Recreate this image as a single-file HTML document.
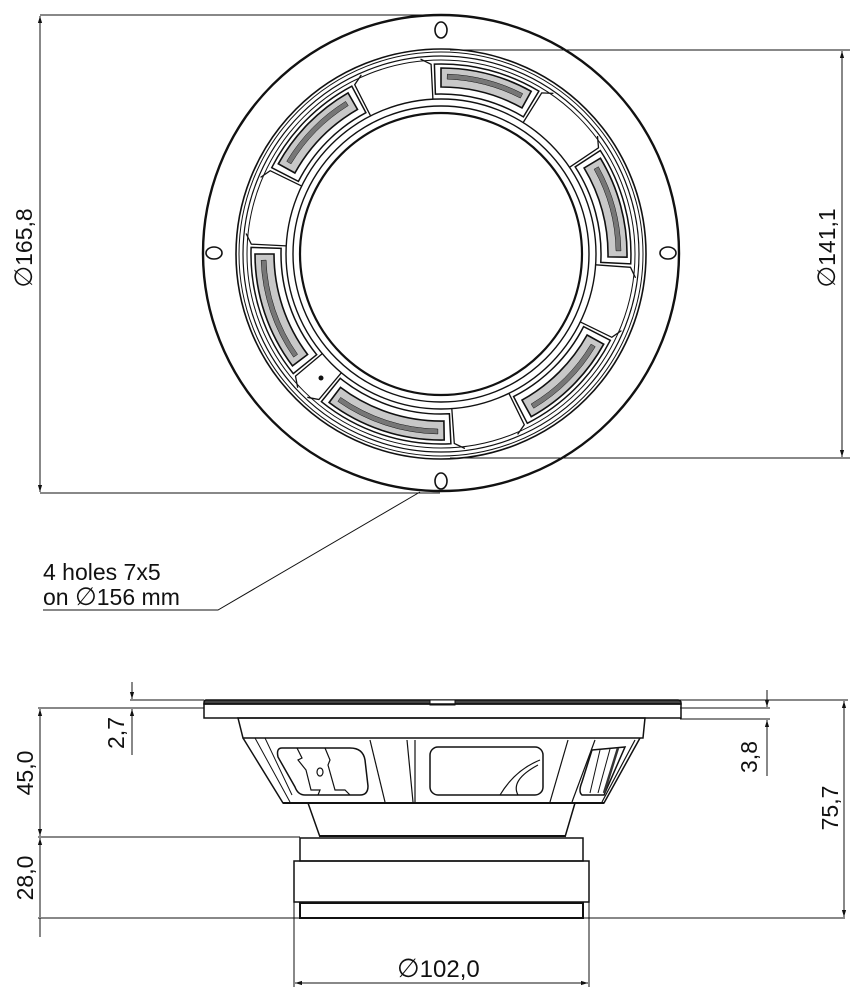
<!DOCTYPE html>
<html><head><meta charset="utf-8"><style>
html,body{margin:0;padding:0;background:#fff;}
svg{display:block}
text{font-family:"Liberation Sans",sans-serif;fill:#111;}
.d{font-family:"DejaVu Sans",sans-serif;}
</style></head><body>
<svg width="859" height="1000" viewBox="0 0 859 1000" xmlns="http://www.w3.org/2000/svg">
<defs>
<marker id="ar" viewBox="0 0 10 10" refX="10" refY="5" markerWidth="7" markerHeight="7" orient="auto-start-reverse"><path d="M0,2 L10,5 L0,8 z" fill="#111"/></marker>
</defs>
<g fill="none" stroke="#111">
<line x1="40" y1="15" x2="440" y2="15" stroke-width="1"/>
<line x1="40" y1="493" x2="440" y2="493" stroke-width="1"/>
<line x1="40" y1="16" x2="40" y2="492" stroke-width="1" marker-start="url(#ar)" marker-end="url(#ar)"/>
<line x1="450" y1="50" x2="850" y2="50" stroke-width="1"/>
<line x1="450" y1="458" x2="850" y2="458" stroke-width="1"/>
<line x1="842" y1="51" x2="842" y2="457" stroke-width="1" marker-start="url(#ar)" marker-end="url(#ar)"/>
<circle cx="441" cy="253" r="238" stroke-width="2.4"/>
<ellipse cx="441" cy="30" rx="6" ry="8" stroke-width="1.6"/>
<ellipse cx="441" cy="481" rx="6" ry="8" stroke-width="1.6"/>
<ellipse cx="214" cy="253" rx="8" ry="6" stroke-width="1.6"/>
<ellipse cx="668" cy="253" rx="8" ry="6" stroke-width="1.6"/>
<circle cx="441" cy="254" r="205" stroke-width="1.6"/>
<circle cx="441" cy="254" r="202" stroke-width="1"/>
<circle cx="441" cy="254" r="198" stroke-width="1.2"/>
<circle cx="441" cy="254" r="194" stroke-width="1"/>
<circle cx="441" cy="254" r="155" stroke-width="1.4"/>
<circle cx="441" cy="254" r="148" stroke-width="1.4"/>
<circle cx="441" cy="254" r="141" stroke-width="2.2"/>
</g>
<g id="slots" fill="none" stroke="#111" stroke-linecap="butt"></g>
<g id="spokes" fill="none" stroke="#111" stroke-width="1.3"></g>
<circle cx="321" cy="378" r="2.5" fill="#111"/>
<g fill="none" stroke="#111" stroke-width="1">
<polyline points="420,492 218,610 43,610"/>
</g>
<text x="43" y="580" font-size="23">4 holes 7x5</text>
<text x="43" y="605" font-size="23">on  <tspan class="d" font-size="25">∅</tspan>156 mm</text>
<text transform="translate(32,248) rotate(-90)" font-size="23" text-anchor="middle"><tspan class="d" font-size="25">∅</tspan>165,8</text>
<text transform="translate(835,248) rotate(-90)" font-size="23" text-anchor="middle"><tspan class="d" font-size="25">∅</tspan>141,1</text>

<g fill="none" stroke="#111" stroke-width="1">
<line x1="130" y1="700" x2="204" y2="700"/>
<line x1="38" y1="708" x2="204" y2="708"/>
<line x1="132" y1="682" x2="132" y2="699" marker-end="url(#ar)"/>
<line x1="132" y1="755" x2="132" y2="709" marker-end="url(#ar)"/>
<line x1="40" y1="709" x2="40" y2="836" marker-start="url(#ar)" marker-end="url(#ar)"/>
<line x1="38" y1="837" x2="300" y2="837"/>
<line x1="40" y1="838" x2="40" y2="917" marker-start="url(#ar)"/>
<line x1="40" y1="918" x2="40" y2="937"/>
<line x1="38" y1="918" x2="845" y2="918"/>
<line x1="680" y1="700" x2="848" y2="700"/>
<line x1="680" y1="708" x2="770" y2="708"/>
<line x1="680" y1="719" x2="770" y2="719"/>
<line x1="767" y1="690" x2="767" y2="707" marker-end="url(#ar)"/>
<line x1="767" y1="776" x2="767" y2="720" marker-end="url(#ar)"/>
<line x1="844" y1="701" x2="844" y2="917" marker-start="url(#ar)" marker-end="url(#ar)"/>
<line x1="294" y1="902" x2="294" y2="987"/>
<line x1="589" y1="902" x2="589" y2="987"/>
<line x1="295" y1="983" x2="588" y2="983" marker-start="url(#ar)" marker-end="url(#ar)"/>
</g>
<text transform="translate(33,773) rotate(-90)" font-size="23" text-anchor="middle">45,0</text>
<text transform="translate(33,878) rotate(-90)" font-size="23" text-anchor="middle">28,0</text>
<text transform="translate(124,733) rotate(-90)" font-size="23" text-anchor="middle">2,7</text>
<text transform="translate(757,757) rotate(-90)" font-size="23" text-anchor="middle">3,8</text>
<text transform="translate(838,808) rotate(-90)" font-size="23" text-anchor="middle">75,7</text>
<text x="397" y="977" font-size="24"><tspan class="d" font-size="26">∅</tspan>102,0</text>

<g fill="none" stroke="#111" stroke-width="1.5">
<path d="M206,700 L678,700 Q681,700 681,703 L681,704 L204,704 L204,703 Q204,700 206,700 Z" fill="#444"/>
<rect x="430" y="700" width="25" height="5" fill="#fff" stroke-width="1"/>
<rect x="204" y="704" width="477" height="14"/>
<path d="M238,718 L645,718 L643,738 L243,738 Z"/>
<path d="M243,738 L283,803 L604,803 L640,738"/>
<line x1="283" y1="803" x2="604" y2="803" stroke-width="2"/>
<line x1="255" y1="738" x2="290" y2="802" stroke-width="1"/>
<line x1="265" y1="738" x2="292" y2="795" stroke-width="1"/>
<line x1="370" y1="740" x2="385" y2="802" stroke-width="1.2"/>
<line x1="407" y1="740" x2="413" y2="802" stroke-width="1.2"/>
<line x1="415" y1="740" x2="415" y2="802" stroke-width="1.2"/>
<line x1="568" y1="740" x2="550" y2="802" stroke-width="1.2"/>
<line x1="595" y1="740" x2="572" y2="802" stroke-width="1.2"/>
<line x1="635" y1="740" x2="602" y2="802" stroke-width="1.2"/>
<path d="M282,748 L350,748 Q363,748 365,760 L368,786 Q368,795 360,795 L305,795 Q298,795 295,787 L278,757 Q276,748 282,748 Z"/>
<path d="M297,748 L302,758 L298,760 L306,770 L311,790 L320,790 L318,795" stroke-width="1.2"/>
<path d="M325,748 L330,760 L328,765 L335,790 L345,790 L350,795" stroke-width="1.2"/>
<ellipse cx="320" cy="772" rx="3" ry="4" stroke-width="1.2"/>
<rect x="430" y="747" width="113" height="48" rx="8"/>
<path d="M500,795 Q515,770 540,760" stroke-width="1.2"/>
<path d="M518,795 Q510,780 538,765" stroke-width="1.2"/>
<path d="M592,750 L625,747 L604,795 L582,795 Q578,792 582,782 Z"/>
<line x1="600" y1="750" x2="590" y2="793" stroke-width="1"/>
<line x1="610" y1="749" x2="598" y2="793" stroke-width="1"/>
<line x1="618" y1="748" x2="604" y2="793" stroke-width="2.5" stroke="#333"/>
<path d="M308,803 L320,837 M575,803 L565,837"/>
<line x1="320" y1="836" x2="565" y2="836" stroke-width="2"/>
<rect x="300" y="838" width="283" height="23"/>
<rect x="294" y="861" width="295" height="41"/>
<rect x="300" y="903" width="283" height="15" stroke-width="2"/>
</g>
<script>
(function(){
var cx=441,cy=254,NS="http://www.w3.org/2000/svg";
function p(r,a){a=a*Math.PI/180;return [(cx+r*Math.cos(a)).toFixed(1),(cy+r*Math.sin(a)).toFixed(1)];}
function band(r1,r2,a1,a2){var A=p(r2,a1),B=p(r2,a2),C=p(r1,a2),D=p(r1,a1);var lg=(a2-a1)>180?1:0;
return "M"+A+" A"+r2+","+r2+" 0 "+lg+" 1 "+B+" L"+C+" A"+r1+","+r1+" 0 "+lg+" 0 "+D+" Z";}
var slots=[[-93,-58],[-154,-117],[140,183],[86,130],[26,64],[-34,4]];
var g=document.getElementById("slots");
slots.forEach(function(s){
 var e=document.createElementNS(NS,"path");e.setAttribute("d",band(160,190,s[0]+1,s[1]-1));e.setAttribute("stroke-width","1.5");g.appendChild(e);
 e=document.createElementNS(NS,"path");e.setAttribute("d",band(167,186,s[0]+3,s[1]-3));e.setAttribute("fill","#c8c8c8");e.setAttribute("stroke-width","1.6");g.appendChild(e);
 e=document.createElementNS(NS,"path");e.setAttribute("d",band(175,180,s[0]+5,s[1]-5));e.setAttribute("fill","#777");e.setAttribute("stroke-width","0.5");g.appendChild(e);
});
var sp=document.getElementById("spokes");
var gaps=[[-117,-93],[-58,-34],[4,26],[64,86],[130,140],[183,206]];
gaps.forEach(function(s){
 [s[0],s[1]].forEach(function(a,i){
  var d=i==0?3:-3;
  var A=p(155,a),B=p(190,a),C=p(196,a+d);
  var e=document.createElementNS(NS,"polyline");e.setAttribute("points",A+" "+B+" "+C);sp.appendChild(e);
 });
});
})();
</script>
</svg>
</body></html>
